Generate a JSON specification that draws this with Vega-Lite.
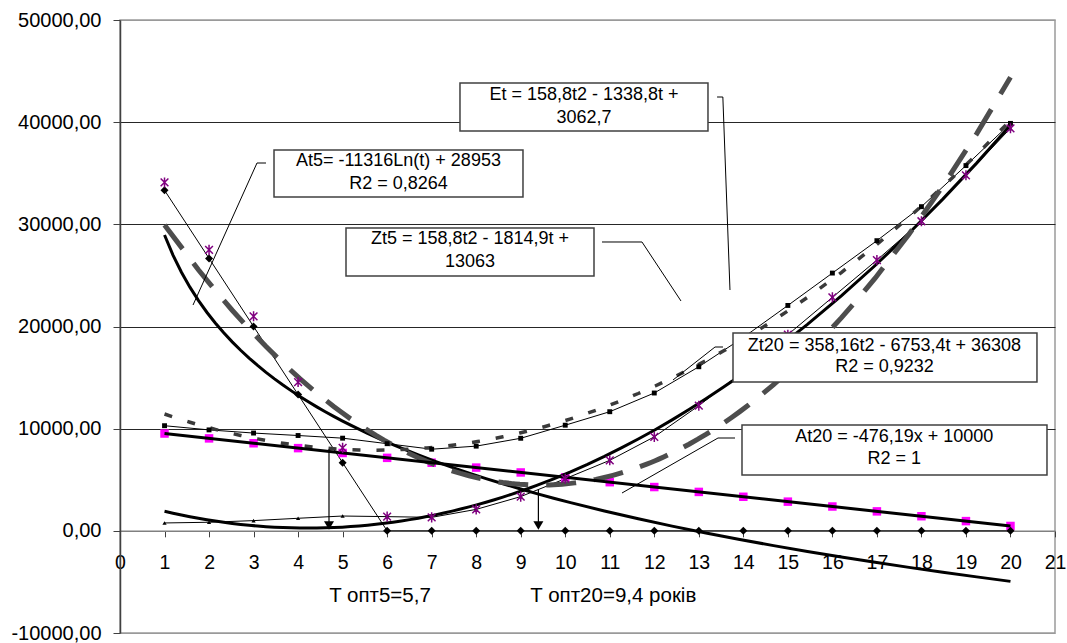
{
  "$schema": "https://vega.github.io/schema/vega-lite/v6.json",
  "width": 935,
  "height": 613,
  "autosize": {"type": "none"},
  "padding": {"left": 120, "top": 20, "right": 12, "bottom": 10},
  "background": "white",
  "config": {
    "view": {"stroke": "#9a9a9a", "strokeWidth": 1.5},
    "font": "Liberation Sans",
    "text": {"font": "Liberation Sans"}
  },
  "datasets": {
    "series": [
      {"t": 1, "At5": 33333, "E": 770, "Zt5": 34100, "At20": 9524, "Zt20": 10290},
      {"t": 2, "At5": 26667, "E": 840, "Zt5": 27500, "At20": 9048, "Zt20": 9880},
      {"t": 3, "At5": 20000, "E": 1000, "Zt5": 21000, "At20": 8571, "Zt20": 9570},
      {"t": 4, "At5": 13333, "E": 1230, "Zt5": 14560, "At20": 8095, "Zt20": 9330},
      {"t": 5, "At5": 6667, "E": 1450, "Zt5": 8120, "At20": 7619, "Zt20": 9070},
      {"t": 6, "At5": 0, "E": 1390, "Zt5": 1390, "At20": 7143, "Zt20": 8530},
      {"t": 7, "At5": 0, "E": 1320, "Zt5": 1320, "At20": 6667, "Zt20": 7990},
      {"t": 8, "At5": 0, "E": 2100, "Zt5": 2100, "At20": 6190, "Zt20": 8290},
      {"t": 9, "At5": 0, "E": 3350, "Zt5": 3350, "At20": 5714, "Zt20": 9060},
      {"t": 10, "At5": 0, "E": 5100, "Zt5": 5100, "At20": 5238, "Zt20": 10340},
      {"t": 11, "At5": 0, "E": 6900, "Zt5": 6900, "At20": 4762, "Zt20": 11660},
      {"t": 12, "At5": 0, "E": 9200, "Zt5": 9200, "At20": 4286, "Zt20": 13490},
      {"t": 13, "At5": 0, "E": 12250, "Zt5": 12250, "At20": 3810, "Zt20": 16060},
      {"t": 14, "At5": 0, "E": 15600, "Zt5": 15600, "At20": 3333, "Zt20": 18930},
      {"t": 15, "At5": 0, "E": 19200, "Zt5": 19200, "At20": 2857, "Zt20": 22060},
      {"t": 16, "At5": 0, "E": 22850, "Zt5": 22850, "At20": 2381, "Zt20": 25230},
      {"t": 17, "At5": 0, "E": 26500, "Zt5": 26500, "At20": 1905, "Zt20": 28400},
      {"t": 18, "At5": 0, "E": 30300, "Zt5": 30300, "At20": 1429, "Zt20": 31730},
      {"t": 19, "At5": 0, "E": 34800, "Zt5": 34800, "At20": 952, "Zt20": 35750},
      {"t": 20, "At5": 0, "E": 39400, "Zt5": 39400, "At20": 476, "Zt20": 39880}
    ],
    "boxes": [
      {"name": "Et", "t": 7.636, "v": 43834, "t2": 13.206, "v2": 39135},
      {"name": "At5", "t": 3.459, "v": 37276, "t2": 9.051, "v2": 32675},
      {"name": "Zt5", "t": 5.076, "v": 29641, "t2": 10.646, "v2": 24943},
      {"name": "Zt20", "t": 13.768, "v": 19364, "t2": 20.595, "v2": 14567},
      {"name": "At20", "t": 13.97, "v": 10359, "t2": 20.82, "v2": 5465}
    ],
    "labels": [
      {"t": 10.42, "v": 42659, "label": "Et = 158,8t2 - 1338,8t +"},
      {"t": 10.42, "v": 40408, "label": "3062,7"},
      {"t": 6.255, "v": 36199, "label": "At5= -11316Ln(t) + 28953"},
      {"t": 6.255, "v": 33948, "label": "R2 = 0,8264"},
      {"t": 7.861, "v": 28564, "label": "Zt5 = 158,8t2 - 1814,9t +"},
      {"t": 7.861, "v": 26313, "label": "13063"},
      {"t": 17.17, "v": 18091, "label": "Zt20 = 358,16t2 - 6753,4t + 36308"},
      {"t": 17.17, "v": 16036, "label": "R2 = 0,9232"},
      {"t": 17.39, "v": 9184, "label": "At20 = -476,19x + 10000"},
      {"t": 17.39, "v": 7031, "label": "R2 = 1"}
    ],
    "notes": [
      {"t": 5.84, "v": -6379, "label": "T опт5=5,7"},
      {"t": 11.08, "v": -6379, "label": "T опт20=9,4 років"}
    ],
    "leaders": [
      {"t": 13.41, "v": 42463, "t2": 13.54, "v2": 42463},
      {"t": 13.54, "v": 42463, "t2": 13.7, "v2": 23572},
      {"t": 3.279, "v": 36003, "t2": 3.077, "v2": 36003},
      {"t": 3.077, "v": 36003, "t2": 1.64, "v2": 22104},
      {"t": 10.826, "v": 28271, "t2": 11.724, "v2": 28271},
      {"t": 11.724, "v": 28271, "t2": 12.6, "v2": 22496},
      {"t": 13.543, "v": 17993, "t2": 13.364, "v2": 17993},
      {"t": 13.364, "v": 17993, "t2": 12.42, "v2": 14763},
      {"t": 13.813, "v": 9086, "t2": 13.431, "v2": 9086},
      {"t": 13.431, "v": 9086, "t2": 11.275, "v2": 3703}
    ],
    "arrows": [
      {"t": 4.694, "v": 7980, "v2": 800},
      {"t": 9.397, "v": 3996, "v2": 800}
    ],
    "heads": [
      {"t": 4.694, "v": 520},
      {"t": 9.397, "v": 520}
    ]
  },
  "encoding": {
    "x": {
      "field": "t", "type": "quantitative",
      "scale": {"domain": [0, 21], "nice": false, "zero": false},
      "axis": {
        "title": null,
        "values": [0,1,2,3,4,5,6,7,8,9,10,11,12,13,14,15,16,17,18,19,20,21],
        "offset": -102.17,
        "grid": false,
        "domainColor": "#808080", "domainWidth": 1.5,
        "tickColor": "#404040", "tickSize": 6, "tickWidth": 1,
        "labelFontSize": 19.5, "labelColor": "#000000", "labelPadding": 17,
        "labelFlush": false, "labelOverlap": false, "labelFont": "Liberation Sans"
      }
    },
    "y": {
      "field": "v", "type": "quantitative",
      "scale": {"domain": [-10000, 50000], "nice": false, "zero": false},
      "axis": {
        "title": null,
        "values": [-10000, 0, 10000, 20000, 30000, 40000, 50000],
        "grid": true,
        "gridColor": {"condition": {"test": "datum.value === 0 || datum.value === 50000 || datum.value === -10000", "value": "#9a9a9a"}, "value": "#262626"},
        "gridWidth": 1,
        "domainColor": "#404040", "domainWidth": 1.5,
        "tickColor": "#404040", "tickSize": 7,
        "labelFontSize": 20, "labelColor": "#000000", "labelPadding": 12, "labelFont": "Liberation Sans",
        "labelExpr": "replace(replace(format(datum.value, '.2f'), '.', ','), '\u2212', '-')"
      }
    }
  },
  "layer": [
    {"data": {"name": "series"}, "transform": [{"fold": ["At5"], "as": ["k", "v"]}],
     "mark": {"type": "line", "color": "#000000", "strokeWidth": 1}, "encoding": {}},
    {"data": {"name": "series"}, "transform": [{"fold": ["E"], "as": ["k", "v"]}],
     "mark": {"type": "line", "color": "#000000", "strokeWidth": 1}, "encoding": {}},
    {"data": {"name": "series"}, "transform": [{"fold": ["Zt20"], "as": ["k", "v"]}],
     "mark": {"type": "line", "color": "#000000", "strokeWidth": 1}, "encoding": {}},
    {"data": {"name": "series"}, "transform": [{"fold": ["At20"], "as": ["k", "v"]}],
     "mark": {"type": "point", "shape": "square", "filled": true, "color": "#FF00FF", "opacity": 1, "size": 72}},
    {"data": {"name": "series"}, "transform": [{"fold": ["At5"], "as": ["k", "v"]}, {"regression": "v", "on": "t", "method": "log"}],
     "mark": {"type": "line", "color": "#000000", "strokeWidth": 3}, "encoding": {}},
    {"data": {"name": "series"}, "transform": [{"fold": ["E"], "as": ["k", "v"]}, {"regression": "v", "on": "t", "method": "poly", "order": 2}],
     "mark": {"type": "line", "color": "#000000", "strokeWidth": 3}, "encoding": {}},
    {"data": {"name": "series"}, "transform": [{"fold": ["Zt20"], "as": ["k", "v"]}, {"regression": "v", "on": "t", "method": "poly", "order": 2}],
     "mark": {"type": "line", "color": "#3a3a3a", "strokeWidth": 3.5, "strokeDash": [8, 16]}, "encoding": {}},
    {"data": {"name": "series"}, "transform": [{"fold": ["Zt5"], "as": ["k", "v"]}, {"regression": "v", "on": "t", "method": "poly", "order": 2}],
     "mark": {"type": "line", "color": "#4d4d4d", "strokeWidth": 5, "strokeDash": [30, 18]}, "encoding": {}},
    {"data": {"name": "series"}, "transform": [{"fold": ["At20"], "as": ["k", "v"]}, {"regression": "v", "on": "t", "method": "linear"}],
     "mark": {"type": "line", "color": "#000000", "strokeWidth": 3}, "encoding": {}},
    {"data": {"name": "series"}, "transform": [{"fold": ["At5"], "as": ["k", "v"]}],
     "mark": {"type": "point", "shape": "diamond", "filled": true, "color": "#000000", "opacity": 1, "size": 64}},
    {"data": {"name": "series"}, "transform": [{"fold": ["E"], "as": ["k", "v"]}],
     "mark": {"type": "point", "shape": "triangle-up", "filled": true, "color": "#000000", "opacity": 1, "size": 18}},
    {"data": {"name": "series"}, "transform": [{"fold": ["Zt20"], "as": ["k", "v"]}],
     "mark": {"type": "point", "shape": "square", "filled": true, "color": "#000000", "opacity": 1, "size": 24}},
    {"data": {"name": "series"}, "transform": [{"fold": ["Zt5"], "as": ["k", "v"]}],
     "mark": {"type": "point", "shape": "M-1,-1L1,1M-1,1L1,-1M0,-1.3L0,1.3", "filled": false, "stroke": "#800080", "strokeWidth": 1.5, "opacity": 1, "size": 60}},
    {"data": {"name": "arrows"}, "mark": {"type": "rule", "color": "#000000", "strokeWidth": 1.2},
     "encoding": {"y2": {"field": "v2"}}},
    {"data": {"name": "heads"}, "mark": {"type": "point", "shape": "triangle-down", "filled": true, "color": "#000000", "opacity": 1, "size": 100}},
    {"data": {"name": "leaders"}, "mark": {"type": "rule", "color": "#000000", "strokeWidth": 1},
     "encoding": {"x2": {"field": "t2"}, "y2": {"field": "v2"}}},
    {"data": {"name": "boxes"}, "mark": {"type": "rect", "fill": "#ffffff", "stroke": "#404040", "strokeWidth": 1.5},
     "encoding": {"x2": {"field": "t2"}, "y2": {"field": "v2"}}},
    {"data": {"name": "labels"}, "mark": {"type": "text", "fontSize": 18, "color": "#000000", "align": "center", "baseline": "middle", "font": "Liberation Sans"},
     "encoding": {"text": {"field": "label"}}},
    {"data": {"name": "notes"}, "mark": {"type": "text", "fontSize": 20.5, "color": "#000000", "align": "center", "baseline": "middle", "font": "Liberation Sans"},
     "encoding": {"text": {"field": "label"}}}
  ]
}
